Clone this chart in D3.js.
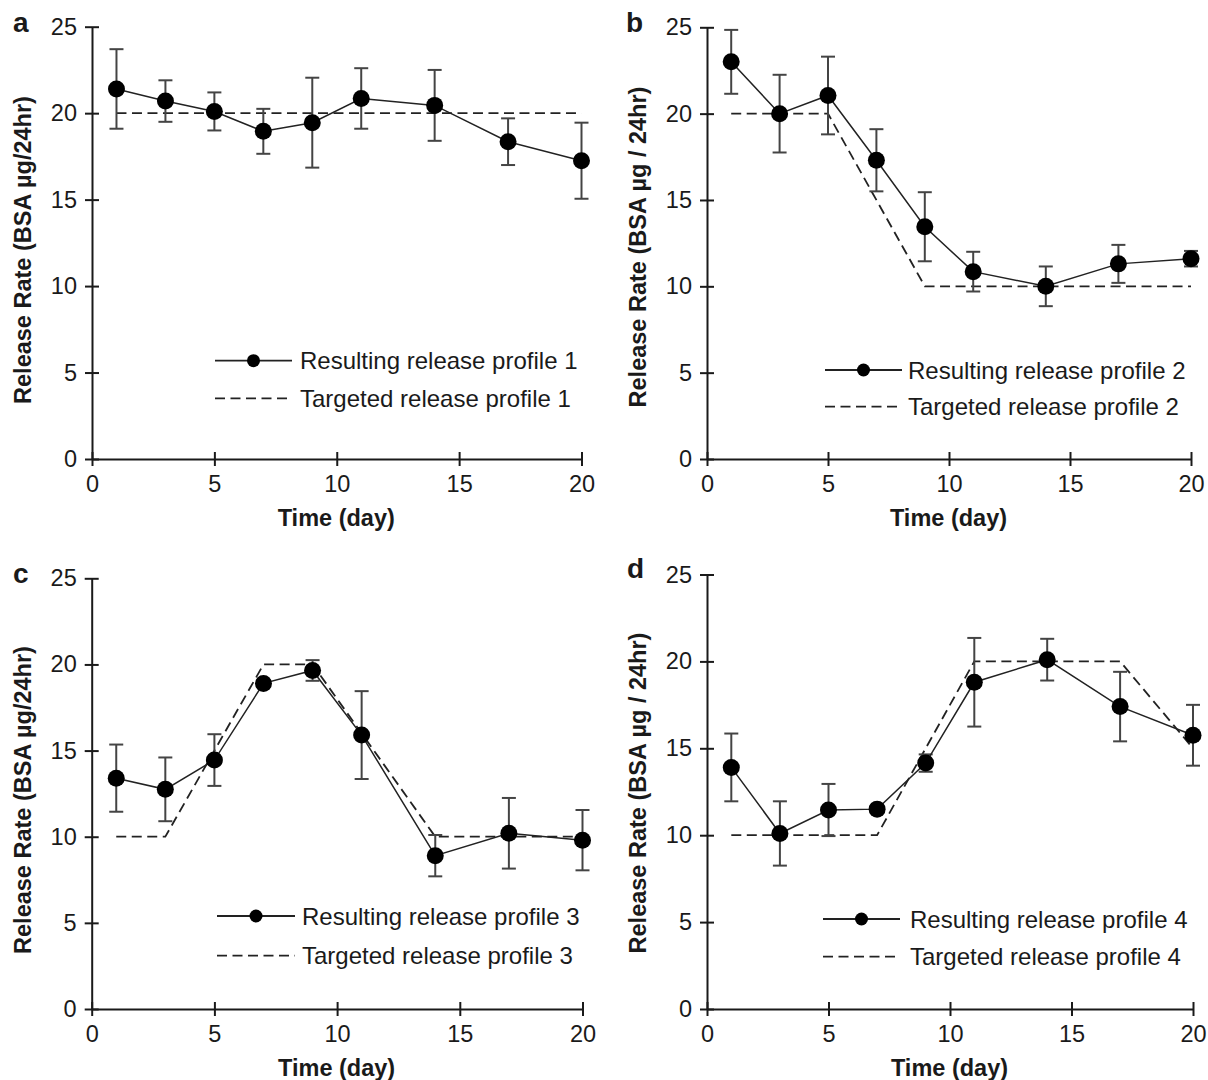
<!DOCTYPE html>
<html>
<head>
<meta charset="utf-8">
<script src="https://cdn.jsdelivr.net/npm/d3@7"></script>
<style>
  html, body { margin: 0; padding: 0; background: #fff; }
  svg { display: block; }
  text { font-family: "Liberation Sans", Arial, Helvetica, sans-serif; fill: #1a1a1a; }
</style>
</head>
<body>
<svg id="chart" width="1208" height="1080"></svg>
<script>
// ---------------- DATA ----------------
const days = [1, 3, 5, 7, 9, 11, 14, 17, 20];
const xTicks = [0, 5, 10, 15, 20];
const yTicks = [0, 5, 10, 15, 20, 25];

const meanA = [21.4, 20.7, 20.1, 18.95, 19.45, 20.85, 20.45, 18.35, 17.25];
const errA  = [2.3, 1.2, 1.1, 1.3, 2.6, 1.75, 2.05, 1.35, 2.2];
const targetDaysA = [1, 20];
const targetA     = [20, 20];

const meanB = [23.0, 20.0, 21.05, 17.3, 13.45, 10.85, 10.0, 11.3, 11.6];
const errB  = [1.85, 2.25, 2.25, 1.8, 2.0, 1.15, 1.15, 1.1, 0.45];
const targetDaysB = [1, 5, 9, 20];
const targetB     = [20, 20, 10, 10];

const meanC = [13.4, 12.75, 14.45, 18.9, 19.65, 15.9, 8.9, 10.2, 9.8];
const errC  = [1.95, 1.85, 1.5, 0.2, 0.6, 2.55, 1.2, 2.05, 1.75];
const targetDaysC = [1, 3, 7, 9, 14, 20];
const targetC     = [10, 10, 20, 20, 10, 10];

const meanD = [13.9, 10.1, 11.45, 11.5, 14.15, 18.8, 20.1, 17.4, 15.75];
const errD  = [1.95, 1.85, 1.5, 0.2, 0.5, 2.55, 1.2, 2.0, 1.75];
const targetDaysD = [1, 7, 11, 17, 20];
const targetD     = [10, 10, 20, 20, 15];

const panelLabels = ["a", "b", "c", "d"];
const yTitles = ["Release Rate (BSA µg/24hr)", "Release Rate (BSA µg / 24hr)",
                 "Release Rate (BSA µg/24hr)", "Release Rate (BSA µg / 24hr)"];
const xTitle = "Time (day)";
const legendResult = ["Resulting release profile 1", "Resulting release profile 2",
                      "Resulting release profile 3", "Resulting release profile 4"];
const legendTarget = ["Targeted release profile 1", "Targeted release profile 2",
                      "Targeted release profile 3", "Targeted release profile 4"];

// ---------------- LAYOUT ----------------
const layout = [
  { xr: [92, 581.5], yr: [459, 26.7], label: [13, 32],   yTitleX: 31,  yTitleY: 250,
    leg: { lx1: 215, lx2: 292, tx: 300, y1: 360.7, y2: 398.3 } },
  { xr: [707, 1191], yr: [459, 27.3], label: [626, 32],  yTitleX: 646, yTitleY: 247,
    leg: { lx1: 825, lx2: 902, tx: 908, y1: 370, y2: 406.7 } },
  { xr: [91.7, 582.5], yr: [1009, 578.3], label: [13, 583], yTitleX: 31, yTitleY: 800,
    leg: { lx1: 217, lx2: 295, tx: 302, y1: 916, y2: 955.7 } },
  { xr: [707, 1193], yr: [1009, 574.5], label: [627, 578], yTitleX: 646, yTitleY: 793,
    leg: { lx1: 823, lx2: 900, tx: 910, y1: 919, y2: 956.7 } }
];

const series = [
  { mean: meanA, err: errA, tDays: targetDaysA, tVals: targetA },
  { mean: meanB, err: errB, tDays: targetDaysB, tVals: targetB },
  { mean: meanC, err: errC, tDays: targetDaysC, tVals: targetC },
  { mean: meanD, err: errD, tDays: targetDaysD, tVals: targetD }
];

const svg = d3.select("#chart");
const FONT = 23.5;
const LEGFONT = 24;
const INK = "#1a1a1a";

series.forEach((s, i) => {
  const L = layout[i];
  const x = d3.scaleLinear().domain([0, 20]).range(L.xr);
  const y = d3.scaleLinear().domain([0, 25]).range(L.yr);
  const g = svg.append("g");

  // Y axis
  const yAx = g.append("g").attr("transform", `translate(${L.xr[0]},0)`)
    .call(d3.axisLeft(y).tickValues(yTicks).tickSize(7).tickSizeOuter(0).tickPadding(8));
  yAx.select(".domain").attr("stroke", INK).attr("stroke-width", 2);
  yAx.selectAll(".tick line").attr("x1", 7).attr("stroke", INK).attr("stroke-width", 2);
  yAx.selectAll(".tick text").attr("font-size", FONT).attr("fill", INK)
     .attr("font-family", "Liberation Sans, Arial, sans-serif");

  // X axis
  const xAx = g.append("g").attr("transform", `translate(0,${L.yr[0]})`)
    .call(d3.axisBottom(x).tickValues(xTicks).tickSize(7).tickSizeOuter(0).tickPadding(9));
  xAx.select(".domain").attr("stroke", INK).attr("stroke-width", 2);
  xAx.selectAll(".tick line").attr("y1", -7).attr("stroke", INK).attr("stroke-width", 2);
  xAx.selectAll(".tick text").attr("font-size", FONT).attr("fill", INK)
     .attr("font-family", "Liberation Sans, Arial, sans-serif");

  // Titles
  g.append("text").attr("x", (L.xr[0] + L.xr[1]) / 2 - 0.5).attr("y", L.yr[0] + 67)
    .attr("text-anchor", "middle").attr("font-weight", "bold").attr("font-size", FONT)
    .text(xTitle);
  g.append("text").attr("transform", `translate(${L.yTitleX},${L.yTitleY}) rotate(-90)`)
    .attr("text-anchor", "middle").attr("font-weight", "bold").attr("font-size", FONT)
    .text(yTitles[i]);
  g.append("text").attr("x", L.label[0]).attr("y", L.label[1])
    .attr("font-weight", "bold").attr("font-size", 28).text(panelLabels[i]);

  // Target dashed line
  const tPts = s.tDays.map((d, k) => [d, s.tVals[k]]);
  g.append("path").datum(tPts)
    .attr("d", d3.line().x(d => x(d[0])).y(d => y(d[1])))
    .attr("fill", "none").attr("stroke", "#222").attr("stroke-width", 1.8)
    .attr("stroke-dasharray", "10,5.5");

  const pts = days.map((d, k) => ({ d, m: s.mean[k], e: s.err[k] }));

  // Error bars
  const eb = g.append("g").attr("stroke", "#444").attr("stroke-width", 2);
  pts.forEach(p => {
    eb.append("line").attr("x1", x(p.d)).attr("x2", x(p.d))
      .attr("y1", y(p.m - p.e)).attr("y2", y(p.m + p.e));
    [p.m - p.e, p.m + p.e].forEach(v => {
      eb.append("line").attr("x1", x(p.d) - 7).attr("x2", x(p.d) + 7)
        .attr("y1", y(v)).attr("y2", y(v));
    });
  });

  // Data line
  g.append("path").datum(pts)
    .attr("d", d3.line().x(p => x(p.d)).y(p => y(p.m)))
    .attr("fill", "none").attr("stroke", "#222").attr("stroke-width", 1.5);

  // Points
  g.selectAll("circle.pt").data(pts).enter().append("circle")
    .attr("class", "pt").attr("cx", p => x(p.d)).attr("cy", p => y(p.m))
    .attr("r", 8.5).attr("fill", "#000");

  // Legend
  const lg = L.leg;
  g.append("line").attr("x1", lg.lx1).attr("x2", lg.lx2).attr("y1", lg.y1).attr("y2", lg.y1)
    .attr("stroke", "#222").attr("stroke-width", 1.8);
  g.append("circle").attr("cx", (lg.lx1 + lg.lx2) / 2).attr("cy", lg.y1).attr("r", 6.5).attr("fill", "#000");
  g.append("text").attr("x", lg.tx).attr("y", lg.y1 + 8.5).attr("font-size", LEGFONT).text(legendResult[i]);
  g.append("line").attr("x1", lg.lx1).attr("x2", lg.lx2).attr("y1", lg.y2).attr("y2", lg.y2)
    .attr("stroke", "#222").attr("stroke-width", 1.8).attr("stroke-dasharray", "10,5.5");
  g.append("text").attr("x", lg.tx).attr("y", lg.y2 + 8.5).attr("font-size", LEGFONT).text(legendTarget[i]);
});
</script>
</body>
</html>
